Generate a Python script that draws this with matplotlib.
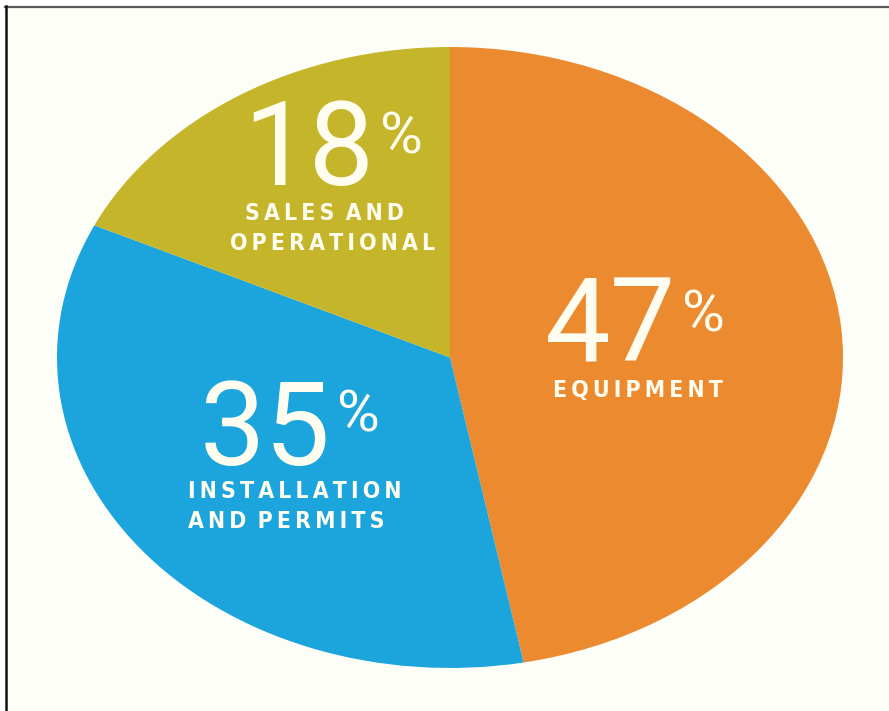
import matplotlib
matplotlib.use("Agg")
import matplotlib.pyplot as plt
from matplotlib.patches import Rectangle

# cost breakdown, clockwise from the top
labels = [["EQUIPMENT"], ["INSTALLATION", "AND PERMITS"], ["SALES AND", "OPERATIONAL"]]
shares = [47, 35, 18]
colors = ["#EC8A30", "#1CA4DD", "#C5B52B"]

W, H = 889, 711
fig = plt.figure(figsize=(W / 100, H / 100), dpi=100, facecolor="white")

# page background + frame, in pixel coords
bg = fig.add_axes([0, 0, 1, 1])
bg.set_xlim(0, W)
bg.set_ylim(H, 0)
bg.axis("off")
bg.add_patch(Rectangle((6, 7), W - 6, H - 7, facecolor="#FEFEF8", edgecolor="none"))
bg.plot([5, W], [6.5, 6.5], color="#5a5a5a", lw=1.6)
bg.plot([5.5, 5.5], [6, H], color="#111111", lw=1.8)

# stretched pie: ellipse spans x 57..843, y 47..668
x0, x1, y0, y1 = 57, 843, 47, 668
ax = fig.add_axes([x0 / W, (H - y1) / H, (x1 - x0) / W, (y1 - y0) / H])
ax.pie(shares, colors=colors, startangle=90, counterclock=False,
       wedgeprops=dict(linewidth=0))
ax.set_aspect("auto")
ax.set_xlim(-1, 1)
ax.set_ylim(-1, 1)
ax.axis("off")

txt = "#FFFDF0"
big = dict(family=["Roboto", "DejaVu Sans"], fontweight="normal", color=txt)
small = dict(family=["DejaVu Sans"], fontweight="bold", fontstretch="condensed",
             color=txt, fontsize=16.5)

renderer = fig.canvas.get_renderer()
THIN = "\u2009"


def spaced(s):
    # letter-spacing with thin spaces
    return THIN.join(s).replace(THIN + " " + THIN, " " + THIN)


# number baseline, % top-line and caption line positions (pixel coords)
nums = [(545, 362), (200, 465), (243, 185)]
pct_y = [331, 432, 153]
labs = [[(553, 397)], [(188, 498), (188, 528)], [(245, 220), (230, 250)]]

for s, (nx, ny), py, pos, lab in zip(shares, nums, pct_y, labs, labels):
    t = ax.text(nx, ny, str(s), transform=bg.transData, ha="left", va="baseline",
                fontsize=84, **big)
    right = t.get_window_extent(renderer).x1
    ax.text(right + 6, py, "%", transform=bg.transData, ha="left", va="baseline",
            fontsize=42, **big)
    for (lx, ly), line in zip(pos, lab):
        ax.text(lx, ly, spaced(line), transform=bg.transData, ha="left",
                va="baseline", **small)

fig.savefig("out.png", dpi=100, facecolor="white")
